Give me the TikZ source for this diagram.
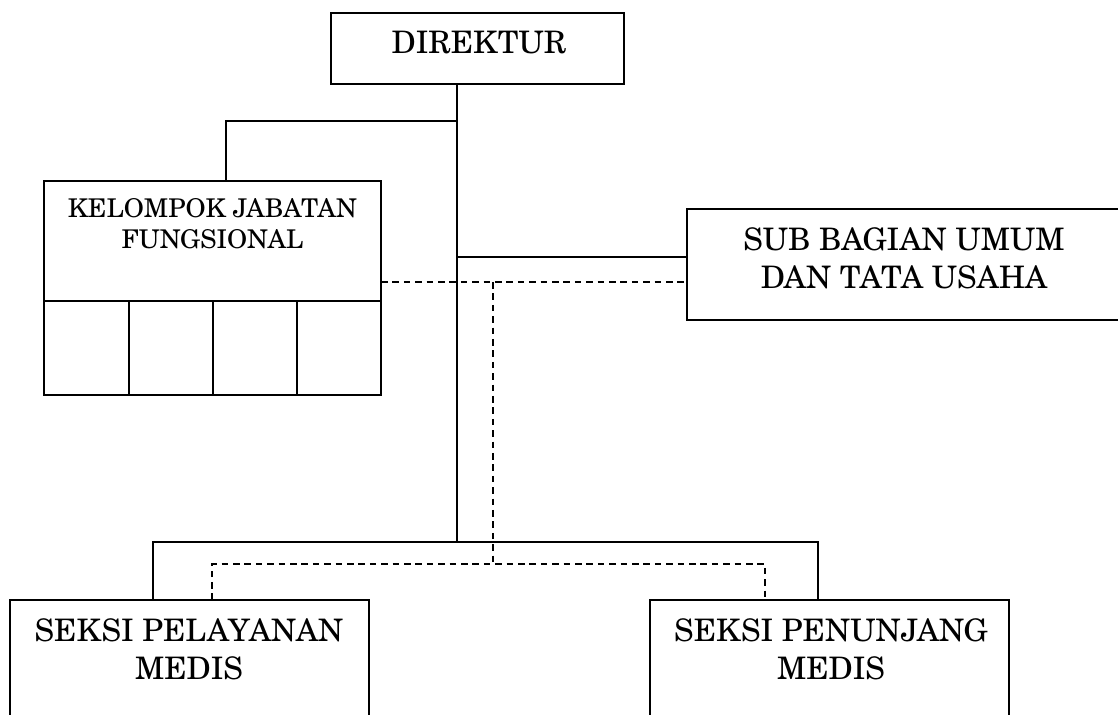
\documentclass[tikz,border=0pt]{standalone}
\usepackage{fontspec}
\setmainfont{TeX Gyre Schola}
\begin{document}
\begin{tikzpicture}[x=0.5pt,y=-0.5pt,
  box/.style={draw, line width=1pt, inner sep=0pt, outer sep=0pt},
  bigtext/.style={inner sep=0pt, align=center, font=\fontsize{15.5pt}{19pt}\selectfont},
  smalltext/.style={inner sep=0pt, align=center, font=\fontsize{12.9pt}{15.5pt}\selectfont},
  conn/.style={line width=1pt},
  dconn/.style={line width=0.9pt, dash pattern=on 3.3pt off 2.4pt}]
\useasboundingbox (0,0) rectangle (1118,715);
% boxes
\node[box, minimum width=146.5pt, minimum height=35.5pt] (dir) at (477.5,48.5) {};
\node[box, minimum width=168.5pt, minimum height=60pt] (kjf) at (212.5,241) {};
\node[box, minimum width=42.25pt, minimum height=47pt] (c1) at (86.25,348) {};
\node[box, minimum width=42.25pt, minimum height=47pt] (c2) at (170.75,348) {};
\node[box, minimum width=42pt, minimum height=47pt] (c3) at (255,348) {};
\node[box, minimum width=42pt, minimum height=47pt] (c4) at (339,348) {};
\node[box, minimum width=217pt, minimum height=55.5pt] (sub) at (904,264.5) {};
\node[box, minimum width=179.5pt, minimum height=80pt] (pel) at (189.5,680) {};
\node[box, minimum width=179.5pt, minimum height=80pt] (pen) at (829.5,680) {};
% texts
\node[bigtext] (tdir) at (479,43) {DIREKTUR};
\node[smalltext] (tkjf) at (212.5,223.5) {KELOMPOK JABATAN\\FUNGSIONAL};
\node[bigtext] (tsub) at (904,258) {SUB BAGIAN UMUM\\DAN TATA USAHA};
\node[bigtext] (tpel) at (189,649) {SEKSI PELAYANAN\\MEDIS};
\node[bigtext] (tpen) at (831,649) {SEKSI PENUNJANG\\MEDIS};
% junctions
\coordinate (t1) at (457,121);
\coordinate (t2) at (457,257);
\coordinate (t3) at (457,542);
\coordinate (k1) at (226,121);
\coordinate (d1) at (493,282);
\coordinate (d2) at (493,564);
\coordinate (dl) at (212,564);
\coordinate (dr) at (765,564);
\coordinate (b1) at (153,542);
\coordinate (b2) at (818,542);
% solid connectors
\draw[conn] (dir.south -| t1) -- (t3);
\draw[conn] (t1) -- (k1) -- (k1 |- kjf.north);
\draw[conn] (t2) -- (t2 -| sub.west);
\draw[conn] (pel.north -| b1) -- (b1) -- (b2) -- (pen.north -| b2);
% dashed connectors
\draw[dconn] (kjf.east |- d1) -- (d1 -| sub.west);
\draw[dconn] (d1) -- (d2);
\draw[dconn] (pel.north -| dl) -- (dl) -- (dr) -- (pen.north -| dr);
\end{tikzpicture}
\end{document}
